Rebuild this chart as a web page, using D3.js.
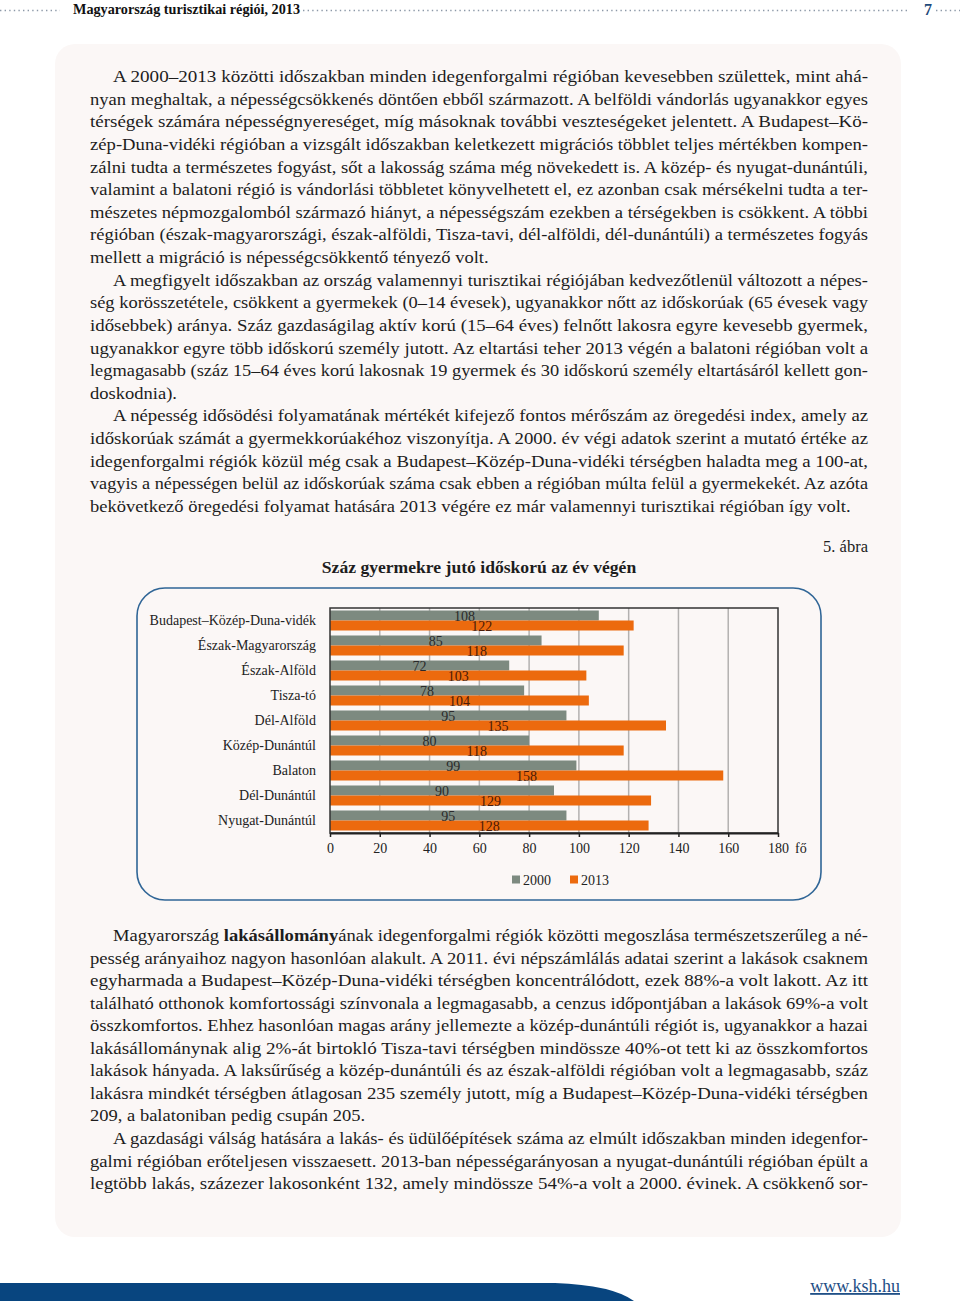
<!DOCTYPE html>
<html><head><meta charset="utf-8">
<script src="https://cdn.jsdelivr.net/npm/d3@7"></script>
<style>
html,body{margin:0;padding:0;background:#fff;}
svg{display:block;}
text{font-family:"Liberation Serif","Times New Roman",serif;}
</style></head>
<body>
<script>
// ---- chart data ----
const categories = ["Budapest–Közép-Duna-vidék","Észak-Magyarország","Észak-Alföld","Tisza-tó","Dél-Alföld","Közép-Dunántúl","Balaton","Dél-Dunántúl","Nyugat-Dunántúl"];
const values2000 = [108,85,72,78,95,80,99,90,95];
const values2013 = [122,118,103,104,135,118,158,129,128];
const seriesNames = ["2000","2013"];
const xTicks = [0,20,40,60,80,100,120,140,160,180];
const unitLabel = "fő";
const chartTitle = "Száz gyermekre jutó időskorú az év végén";
const figureLabel = "5. ábra";
const headerTitle = "Magyarország turisztikai régiói, 2013";
const pageNumber = "7";

// ---- page text (lines as laid out; [text, isIndented, isLastOfParagraph]) ----
const textAbove = [
 ["A 2000–2013 közötti időszakban minden idegenforgalmi régióban kevesebben születtek, mint ahá-",1,0],
 ["nyan meghaltak, a népességcsökkenés döntően ebből származott. A belföldi vándorlás ugyanakkor egyes",0,0],
 ["térségek számára népességnyereséget, míg másoknak további veszteségeket jelentett. A Budapest–Kö-",0,0],
 ["zép-Duna-vidéki régióban a vizsgált időszakban keletkezett migrációs többlet teljes mértékben kompen-",0,0],
 ["zálni tudta a természetes fogyást, sőt a lakosság száma még növekedett is. A közép- és nyugat-dunántúli,",0,0],
 ["valamint a balatoni régió is vándorlási többletet könyvelhetett el, ez azonban csak mérsékelni tudta a ter-",0,0],
 ["mészetes népmozgalomból származó hiányt, a népességszám ezekben a térségekben is csökkent. A többi",0,0],
 ["régióban (észak-magyarországi, észak-alföldi, Tisza-tavi, dél-alföldi, dél-dunántúli) a természetes fogyás",0,0],
 ["mellett a migráció is népességcsökkentő tényező volt.",0,1],
 ["A megfigyelt időszakban az ország valamennyi turisztikai régiójában kedvezőtlenül változott a népes-",1,0],
 ["ség korösszetétele, csökkent a gyermekek (0–14 évesek), ugyanakkor nőtt az időskorúak (65 évesek vagy",0,0],
 ["idősebbek) aránya. Száz gazdaságilag aktív korú (15–64 éves) felnőtt lakosra egyre kevesebb gyermek,",0,0],
 ["ugyanakkor egyre több időskorú személy jutott. Az eltartási teher 2013 végén a balatoni régióban volt a",0,0],
 ["legmagasabb (száz 15–64 éves korú lakosnak 19 gyermek és 30 időskorú személy eltartásáról kellett gon-",0,0],
 ["doskodnia).",0,1],
 ["A népesség idősödési folyamatának mértékét kifejező fontos mérőszám az öregedési index, amely az",1,0],
 ["időskorúak számát a gyermekkorúakéhoz viszonyítja. A 2000. év végi adatok szerint a mutató értéke az",0,0],
 ["idegenforgalmi régiók közül még csak a Budapest–Közép-Duna-vidéki térségben haladta meg a 100-at,",0,0],
 ["vagyis a népességen belül az időskorúak száma csak ebben a régióban múlta felül a gyermekekét. Az azóta",0,0],
 ["bekövetkező öregedési folyamat hatására 2013 végére ez már valamennyi turisztikai régióban így volt.",0,1]
];
const textBelow = [
 ["Magyarország |lakásállomány|ának idegenforgalmi régiók közötti megoszlása természetszerűleg a né-",1,0],
 ["pesség arányaihoz nagyon hasonlóan alakult. A 2011. évi népszámlálás adatai szerint a lakások csaknem",0,0],
 ["egyharmada a Budapest–Közép-Duna-vidéki térségben koncentrálódott, ezek 88%-a volt lakott. Az itt",0,0],
 ["található otthonok komfortossági színvonala a legmagasabb, a cenzus időpontjában a lakások 69%-a volt",0,0],
 ["összkomfortos. Ehhez hasonlóan magas arány jellemezte a közép-dunántúli régiót is, ugyanakkor a hazai",0,0],
 ["lakásállománynak alig 2%-át birtokló Tisza-tavi térségben mindössze 40%-ot tett ki az összkomfortos",0,0],
 ["lakások hányada. A laksűrűség a közép-dunántúli és az észak-alföldi régióban volt a legmagasabb, száz",0,0],
 ["lakásra mindkét térségben átlagosan 235 személy jutott, míg a Budapest–Közép-Duna-vidéki  térségben",0,0],
 ["209, a balatoniban pedig csupán 205.",0,1],
 ["A gazdasági válság hatására a lakás- és üdülőépítések száma az elmúlt időszakban minden idegenfor-",1,0],
 ["galmi régióban erőteljesen visszaesett. 2013-ban népességarányosan a nyugat-dunántúli régióban épült a",0,0],
 ["legtöbb lakás, százezer lakosonként 132, amely mindössze 54%-a volt a 2000. évinek. A csökkenő sor-",0,0]
];

const W = 960, H = 1308;
const svg = d3.select("body").append("svg").attr("width", W).attr("height", H);

// ---- header ----
function dots(x1, x2, y) {
  svg.append("line").attr("x1", x1).attr("x2", x2).attr("y1", y).attr("y2", y)
    .attr("stroke", "#8d99a8").attr("stroke-width", 1.6).attr("stroke-dasharray", "1.4,3.2");
}
dots(0, 60, 10.5);
dots(303, 910, 10.5);
dots(936, 960, 10.5);
svg.append("text").attr("x", 73).attr("y", 14).attr("font-size", 14).attr("font-weight", "bold").attr("fill", "#111")
  .attr("textLength", 227).attr("lengthAdjust", "spacingAndGlyphs").text(headerTitle);
svg.append("text").attr("x", 924).attr("y", 15).attr("font-size", 16).attr("font-weight", "bold")
  .attr("fill", "#1f4a7a").text(pageNumber);

// ---- page panel ----
svg.append("rect").attr("x", 55).attr("y", 44).attr("width", 846).attr("height", 1193)
  .attr("rx", 20).attr("fill", "#fbf7f6");

// ---- paragraphs ----
const left = 90, right = 868, indent = 23, bodySize = 17.4, stretch = 1.065;
function drawLines(lines, y0, step) {
  lines.forEach((ln, i) => {
    const [txt, ind, last] = ln;
    const x = left + (ind ? indent : 0);
    const t = svg.append("text").attr("x", x).attr("y", y0 + i * step)
      .attr("font-size", bodySize).attr("fill", "#1d1d1d");
    const parts = txt.split("|");
    parts.forEach((p, k) => {
      t.append("tspan").attr("font-weight", k % 2 === 1 ? "bold" : "normal").text(p);
    });
    if (!last) {
      t.attr("textLength", right - x).attr("lengthAdjust", "spacingAndGlyphs");
    } else {
      const natural = t.node().getComputedTextLength();
      t.attr("textLength", natural * stretch).attr("lengthAdjust", "spacingAndGlyphs");
    }
  });
}
drawLines(textAbove, 82, 22.63);
drawLines(textBelow, 941, 22.55);

// ---- figure label and title ----
svg.append("text").attr("x", 868).attr("y", 552).attr("text-anchor", "end")
  .attr("font-size", 16.5).attr("fill", "#1d1d1d").text(figureLabel);
svg.append("text").attr("x", 479).attr("y", 573).attr("text-anchor", "middle")
  .attr("font-size", 17.6).attr("font-weight", "bold").attr("fill", "#1d1d1d").text(chartTitle);

// ---- chart box ----
svg.append("rect").attr("x", 137).attr("y", 588).attr("width", 684).attr("height", 312)
  .attr("rx", 28).attr("fill", "#fbf7f6").attr("stroke", "#2f6596").attr("stroke-width", 1.6);

// ---- chart ----
const plot = {l: 330, r: 778, t: 608, b: 833};
const x = d3.scaleLinear().domain([0, 180]).range([plot.l, plot.r]);
const y = d3.scaleBand().domain(categories).range([plot.t, plot.b]).paddingInner(0.2).paddingOuter(0.1);
const ySub = d3.scaleBand().domain(seriesNames).range([0, y.bandwidth()]);
const colors = {"2000": "#7d8a80", "2013": "#ec6a0e"};
const labelColors = {"2000": "#2a2a2a", "2013": "#4a1a08"};

const g = svg.append("g");
// gridlines
g.selectAll("line.grid").data(xTicks.filter(d => d > 0 && d < 180)).enter().append("line")
  .attr("x1", d => x(d)).attr("x2", d => x(d)).attr("y1", plot.t).attr("y2", plot.b)
  .attr("stroke", "#b3b1b0").attr("stroke-width", 1.5);

const rows = categories.map((c, i) => ({cat: c, vals: [
  {s: "2000", v: values2000[i]}, {s: "2013", v: values2013[i]}]}));
const rowG = g.selectAll("g.row").data(rows).enter().append("g")
  .attr("transform", d => `translate(0,${y(d.cat)})`);
rowG.selectAll("rect").data(d => d.vals).enter().append("rect")
  .attr("x", x(0)).attr("y", d => ySub(d.s)).attr("width", d => x(d.v) - x(0))
  .attr("height", ySub.bandwidth()).attr("fill", d => colors[d.s]);
rowG.selectAll("text").data(d => d.vals).enter().append("text")
  .attr("x", d => x(d.v / 2)).attr("y", d => ySub(d.s) + ySub.bandwidth() / 2 + 0.5)
  .attr("dominant-baseline", "central").attr("text-anchor", "middle")
  .attr("font-size", 14).attr("fill", d => labelColors[d.s]).text(d => d.v);

// frame
g.append("rect").attr("x", plot.l).attr("y", plot.t).attr("width", plot.r - plot.l)
  .attr("height", plot.b - plot.t).attr("fill", "none").attr("stroke", "#333").attr("stroke-width", 1.5);

// x axis
const xAxis = d3.axisBottom(x).tickValues(xTicks).tickSize(4).tickSizeOuter(0).tickPadding(6);
const ax = svg.append("g").attr("transform", `translate(0,${plot.b})`).call(xAxis);
ax.select(".domain").attr("stroke", "#222").attr("stroke-width", 2);
ax.selectAll(".tick line").attr("stroke", "#222").attr("stroke-width", 1.5);
ax.selectAll(".tick text").attr("font-family", "Liberation Serif, serif").attr("font-size", 14).attr("fill", "#222");
svg.append("text").attr("x", 795).attr("y", 853).attr("font-size", 14).attr("fill", "#222").text(unitLabel);

// y axis labels
const yAxis = d3.axisLeft(y).tickSize(0).tickPadding(14);
const ay = svg.append("g").attr("transform", `translate(${plot.l},0)`).call(yAxis);
ay.select(".domain").remove();
ay.selectAll(".tick text").attr("font-family", "Liberation Serif, serif").attr("font-size", 14).attr("fill", "#222");

// legend
const legend = svg.append("g").attr("transform", "translate(512,880)");
seriesNames.forEach((s, i) => {
  const lg = legend.append("g").attr("transform", `translate(${i * 58},0)`);
  lg.append("rect").attr("x", 0).attr("y", -4.5).attr("width", 8).attr("height", 8).attr("fill", colors[s]);
  lg.append("text").attr("x", 11).attr("y", 0).attr("dominant-baseline", "central")
    .attr("font-size", 14).attr("fill", "#222").text(s);
});

// ---- footer ----
svg.append("path").attr("d", "M0,1283 L555,1283 Q612,1285 634,1301 L0,1301 Z").attr("fill", "#08457f");
svg.append("text").attr("x", 900).attr("y", 1292).attr("text-anchor", "end").attr("font-size", 18)
  .attr("fill", "#1f4f86").attr("text-decoration", "underline").text("www.ksh.hu");
</script>
</body></html>
